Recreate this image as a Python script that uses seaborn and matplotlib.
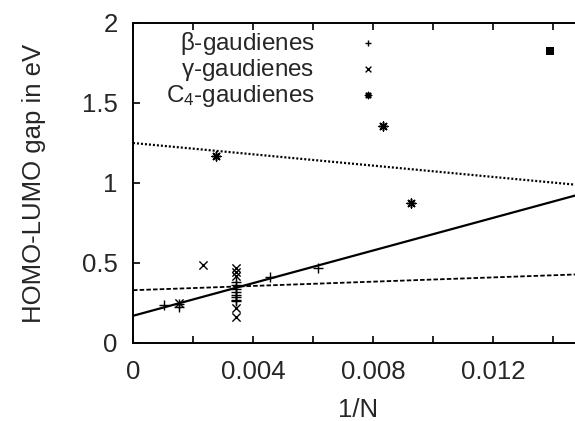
import matplotlib
matplotlib.use('Agg')
import matplotlib.pyplot as plt
import seaborn as sns
import pandas as pd

# data (x = 1/N, y = HOMO-LUMO gap in eV)
beta_x = [0.00103, 0.00153, 0.00153, 0.00343, 0.00343, 0.00343, 0.00343,
          0.00343, 0.00343, 0.00343, 0.00343, 0.00457, 0.00617]
beta_y = [0.235, 0.225, 0.245, 0.38, 0.36, 0.34, 0.32, 0.30, 0.29, 0.27,
          0.26, 0.415, 0.47]
gamma_x = [0.00153, 0.00233, 0.00343, 0.00343, 0.00343, 0.00343, 0.00343]
gamma_y = [0.25, 0.485, 0.47, 0.445, 0.42, 0.22, 0.165]
c4_x = [0.00277, 0.00833, 0.00927]
c4_y = [1.17, 1.355, 0.875]
extra_x = [0.0139]
extra_y = [1.825]

# fit lines, end points
fit_x = [0.0, 0.015]
fit_solid = [0.17, 0.935]
fit_dashed = [0.33, 0.43]
fit_dotted = [1.25, 0.985]

xticks = [0, 0.004, 0.008, 0.012]
xtick_labels = ['0', '0.004', '0.008', '0.012']
xminor = [0.002, 0.006, 0.010, 0.014]
yticks = [0, 0.5, 1, 1.5, 2]
ytick_labels = ['0', '0.5', '1', '1.5', '2']

sns.set_style('ticks')
plt.rcParams['font.family'] = ['Liberation Sans', 'DejaVu Sans']
plt.rcParams['mathtext.fontset'] = 'custom'
plt.rcParams['mathtext.rm'] = 'Liberation Sans'
plt.rcParams['mathtext.it'] = 'Liberation Sans'
fs = 18.5

fig = plt.figure(figsize=(5.75, 4.21), dpi=100)
ax = fig.add_axes([133 / 575, 78 / 421, 450 / 575, 320 / 421])

fits = pd.DataFrame({'x': fit_x, 'solid': fit_solid,
                     'dashed': fit_dashed, 'dotted': fit_dotted})
sns.lineplot(data=fits, x='x', y='dotted', ax=ax, color='black', lw=1.6,
             linestyle=(0, (0.9, 0.9)))
sns.lineplot(data=fits, x='x', y='solid', ax=ax, color='black', lw=1.6)
sns.lineplot(data=fits, x='x', y='dashed', ax=ax, color='black', lw=1.3,
             linestyle=(0, (2.5, 1.2)))

sns.scatterplot(x=beta_x, y=beta_y, ax=ax, marker='+', color='black',
                s=45, linewidth=1.0, label=r'$\beta$-gaudienes')
sns.scatterplot(x=gamma_x, y=gamma_y, ax=ax, marker='x', color='black',
                s=35, linewidth=1.0, label=r'$\gamma$-gaudienes')
sns.scatterplot(x=c4_x, y=c4_y, ax=ax, marker=(8, 2, 0), color='black',
                s=40, linewidth=1.1, label=r'C$_4$-gaudienes')
sns.scatterplot(x=extra_x, y=extra_y, ax=ax, marker='s', color='black',
                s=30, linewidth=0)

ax.set_xlim(0, 0.015)
ax.set_ylim(0, 2)
ax.set_xticks(xticks, labels=xtick_labels, fontsize=fs)
ax.set_xticks(xminor, minor=True)
ax.set_yticks(yticks, labels=ytick_labels, fontsize=fs)
ax.tick_params(which='both', direction='in', length=5, width=1.2,
               top=True, right=True, color='black')
ax.tick_params(axis='x', which='major', pad=12)
ax.tick_params(axis='y', pad=11)
for sp in ax.spines.values():
    sp.set_linewidth(1.4)
    sp.set_color('black')

ax.set_xlabel('1/N', fontsize=fs, labelpad=10)
ax.set_ylabel('HOMO-LUMO gap in eV', fontsize=fs, labelpad=26)

leg = ax.legend(loc='upper right', bbox_to_anchor=(0.555, 0.987),
                markerfirst=False, frameon=False, fontsize=17.5,
                handlelength=1.0, handletextpad=1.7, labelspacing=0.0,
                borderpad=0.1, borderaxespad=0.0, markerscale=0.7)

fig.savefig('out.png', dpi=100)
